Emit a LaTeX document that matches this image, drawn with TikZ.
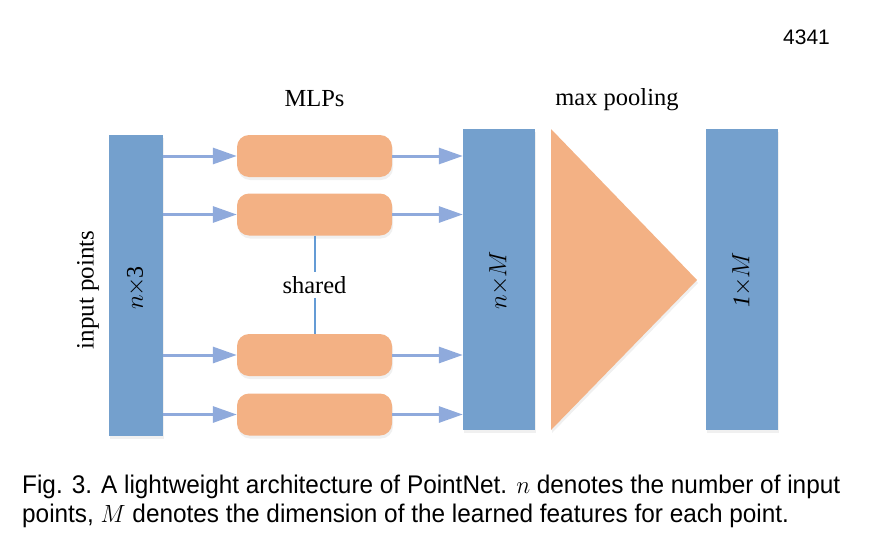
\documentclass[tikz,border=0pt]{standalone}
\usepackage{fontspec}
\setmainfont{Liberation Serif}
\newfontfamily\capfont{Liberation Sans}
\usetikzlibrary{arrows.meta,shadows}
\definecolor{barblue}{RGB}{116,160,205}
\definecolor{mlporange}{RGB}{243,177,132}
\definecolor{arrblue}{RGB}{143,170,220}
\definecolor{linkblue}{RGB}{100,155,213}
\tikzset{
  bar/.style={fill=barblue, draw=none, minimum width=#1, minimum height=301pt, inner sep=0pt, drop shadow={opacity=0.12, shadow xshift=1pt, shadow yshift=-3pt}},
  mlp/.style={fill=mlporange, draw=none, rounded corners=12pt, minimum width=155pt, minimum height=42pt, inner sep=0pt, drop shadow={opacity=0.12, shadow xshift=1pt, shadow yshift=-3pt}},
  arr/.style={draw=arrblue, line width=3pt, -{Triangle[length=24pt,width=16pt]}},
  lbl/.style={font=\fontsize{24.5}{28}\selectfont, inner sep=1pt},
  vlbl/.style={font=\fontsize{24}{28}\selectfont, rotate=90, inner sep=0pt},
  captext/.style={font=\capfont\fontsize{25.5}{31}\selectfont, anchor=base west, inner sep=0pt}
}
\begin{document}
\begin{tikzpicture}[x=1pt,y=-1pt]
\useasboundingbox (0,0) rectangle (877,554);
% bars
\node[bar=54pt] (inbar) at (136,285) {};
\node[bar=72pt] (midbar) at (499,279.5) {};
\node[bar=72pt] (outbar) at (742,279.5) {};
% triangle
\coordinate (tt) at (551,129);
\coordinate (tb) at (551,430);
\coordinate (ta) at (697,280);
\fill[mlporange, drop shadow={opacity=0.12, shadow xshift=1pt, shadow yshift=-3pt}] (tt) -- (ta) -- (tb) -- cycle;
% MLP boxes
\node[mlp] (b1) at (314.5,156) {};
\node[mlp] (b2) at (314.5,214.5) {};
\node[mlp] (b3) at (314.5,355) {};
\node[mlp] (b4) at (314.5,414.5) {};
% arrows
\foreach \b in {b1,b2,b3,b4}{
  \draw[arr] (\b.west -| inbar.east) -- (\b.west);
  \draw[arr] (\b.east) -- (\b.east -| midbar.west);
}
% shared
\node[lbl, fill=white, inner sep=4pt] (shared) at (314.5,285) {shared};
\draw[linkblue, line width=2pt] (b2.south) -- (shared.north);
\draw[linkblue, line width=2pt] (shared.south) -- (b3.north);
% labels
\node[lbl] (mlps) at (314.5,99) {MLPs};
\node[lbl] (maxp) at (617,100) {max pooling};
\node[vlbl, font=\fontsize{25}{28}\selectfont] (inp) at (88,290) {input points};
\node[vlbl] (n3) at (136,288) {$n$\kern-1pt$\times$\kern-1pt3};
\node[vlbl] (nM) at (499,280) {$n$\kern-1pt$\times$\kern-1pt$M$};
\node[vlbl] (oM) at (742,280) {\textit{1}\kern-1pt$\times$\kern-1pt$M$};
% page number
\node[captext, font=\capfont\fontsize{21}{24}\selectfont] (pg) at (783,44) {4341};
% caption
\node[captext] (c1) at (22,493) {\scalebox{0.955}[1]{Fig. 3. A lightweight architecture of PointNet. $n$ denotes the number of input}};
\node[captext] (c2) at (22,522) {\scalebox{0.955}[1]{points, $M$ denotes the dimension of the learned features for each point.}};
\end{tikzpicture}
\end{document}
